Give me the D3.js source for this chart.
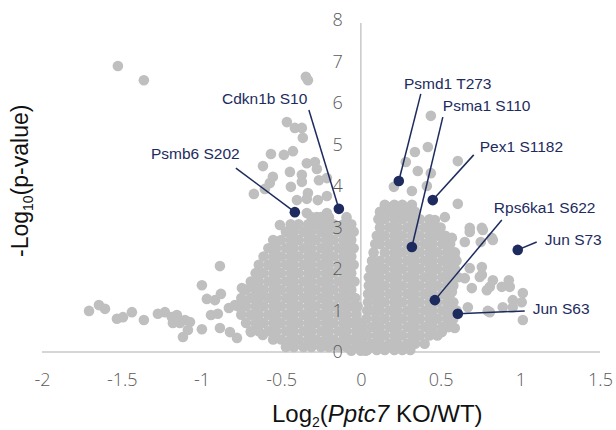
<!DOCTYPE html>
<html><head><meta charset="utf-8">
<script src="https://cdn.jsdelivr.net/npm/d3@7"></script>
<style>
html,body{margin:0;padding:0;background:#fff;}
svg{display:block;}
</style></head>
<body>
<svg id="chart" width="616" height="430"></svg>
<script>
// ---- Data (log2 fold change, -log10 p) ----
const xTicks = [-2, -1.5, -1, -0.5, 0, 0.5, 1, 1.5];
const xTickLabels = ["-2", "-1.5", "-1", "-0.5", "0", "0.5", "1", "1.5"];
const yTicks = [0, 1, 2, 3, 4, 5, 6, 7, 8];
const yTickLabels = ["0", "1", "2", "3", "4", "5", "6", "7", "8"];

const scatteredPoints = [
  [-1.524,6.89],[-1.361,6.55],
  [-1.705,0.99],[-1.643,1.13],[-1.605,1.04],[-1.530,0.80],[-1.492,0.84],[-1.436,0.96],[-1.361,0.77],
  [-1.273,0.92],[-1.229,0.96],[-1.185,0.84],[-1.154,0.89],[-1.179,0.70],[-1.135,0.70],[-1.103,0.77],
  [-1.116,0.36],[-1.085,0.53],[-1.072,0.72],
  [-0.884,2.07],[-0.997,1.61],[-0.966,1.28],[-0.915,1.25],[-0.878,1.40],[-0.746,1.54],[-0.683,1.57],
  [-0.633,1.33],[-0.828,1.06],[-0.790,1.13],[-0.727,1.20],[-0.940,0.89],[-0.897,0.92],[-0.997,0.55],
  [-0.884,0.58],[-0.821,0.48],[-0.777,0.34],[-0.690,0.48],[-0.615,0.41],
  [-0.464,5.54],[-0.414,5.40],[-0.370,5.40],[-0.364,5.16],[-0.564,4.77],[-0.483,4.75],[-0.426,4.84],
  [-0.614,4.48],[-0.339,4.55],[-0.288,4.58],[-0.276,4.41],[-0.445,4.34],[-0.370,4.27],[-0.552,4.22],
  [-0.370,4.10],[-0.263,4.14],[-0.213,4.19],[-0.571,4.07],[-0.439,3.98],[-0.332,3.83],[-0.602,3.93],
  [-0.671,3.81],[-0.401,3.66],[-0.339,3.69],[-0.270,3.66],[-0.213,3.76],[-0.339,3.35],[-0.276,3.25],
  [-0.213,3.35],[-0.508,3.06],[-0.345,6.63],[-0.332,6.55],
  [0.439,5.69],[0.339,4.82],[0.420,4.94],[0.282,4.58],[0.608,4.60],[0.357,4.36],[0.439,4.31],
  [0.207,3.98],[0.320,3.88],[0.414,4.00],[0.169,3.49],[0.119,3.25],[0.608,3.57],[0.527,3.25],
  [0.464,3.18],[0.683,2.99],[0.759,2.99],
  [0.571,2.75],[0.683,2.89],[0.652,2.65],[0.752,2.65],[0.821,2.75],[0.589,2.27],[0.683,2.02],
  [0.759,2.05],[0.746,1.81],[0.652,1.78],[0.696,1.54],[0.809,1.57],[0.571,1.45],[0.671,1.08],
  [0.796,0.99],[0.589,0.58],[0.508,0.48],
  [0.765,2.94],[0.828,2.70],[0.759,1.86],[0.828,1.73],[0.790,1.49],[0.928,1.73],[0.884,1.57],
  [0.934,1.57],[1.016,1.42],[1.009,1.20],[0.953,1.25],[0.953,1.08],[0.890,1.08],[0.809,0.96],[1.016,0.77]
];

// dense left cloud, read row by row (y of row, x of points in the row)
const leftRowY = [3.25, 3.08, 2.90, 2.70, 2.50, 2.30, 2.10, 1.90, 1.70, 1.50, 1.30, 1.10, 0.90, 0.70, 0.50, 0.30, 0.12, 0.03];
const leftRowX = [
  [-0.31,-0.25,-0.20,-0.09],
  [-0.44,-0.39,-0.33,-0.28,-0.22,-0.17,-0.11,-0.06],
  [-0.47,-0.42,-0.36,-0.31,-0.25,-0.20,-0.14,-0.09,-0.045],
  [-0.55,-0.50,-0.44,-0.39,-0.33,-0.28,-0.22,-0.17,-0.11,-0.06],
  [-0.58,-0.53,-0.47,-0.42,-0.36,-0.31,-0.25,-0.20,-0.14,-0.09,-0.045],
  [-0.61,-0.55,-0.50,-0.44,-0.39,-0.33,-0.28,-0.22,-0.17,-0.11,-0.06],
  [-0.64,-0.58,-0.53,-0.47,-0.42,-0.36,-0.31,-0.25,-0.20,-0.14,-0.09,-0.045],
  [-0.66,-0.61,-0.55,-0.50,-0.44,-0.39,-0.33,-0.28,-0.22,-0.17,-0.11,-0.06],
  [-0.69,-0.64,-0.58,-0.53,-0.47,-0.42,-0.36,-0.31,-0.25,-0.20,-0.14,-0.09,-0.04],
  [-0.72,-0.66,-0.61,-0.55,-0.50,-0.44,-0.39,-0.33,-0.28,-0.22,-0.17,-0.11,-0.06],
  [-0.75,-0.69,-0.64,-0.58,-0.53,-0.47,-0.42,-0.36,-0.31,-0.25,-0.20,-0.14,-0.09,-0.035],
  [-0.77,-0.72,-0.66,-0.61,-0.55,-0.50,-0.44,-0.39,-0.33,-0.28,-0.22,-0.17,-0.11,-0.06,-0.02],
  [-0.75,-0.69,-0.64,-0.58,-0.53,-0.47,-0.42,-0.36,-0.31,-0.25,-0.20,-0.14,-0.09,-0.03],
  [-0.72,-0.66,-0.61,-0.55,-0.50,-0.44,-0.39,-0.33,-0.28,-0.22,-0.17,-0.11,-0.06,-0.01],
  [-0.69,-0.64,-0.58,-0.53,-0.47,-0.42,-0.36,-0.31,-0.25,-0.20,-0.14,-0.09,-0.03],
  [-0.55,-0.50,-0.44,-0.39,-0.33,-0.28,-0.22,-0.17,-0.11,-0.06,-0.01],
  [-0.47,-0.42,-0.36,-0.31,-0.25,-0.20,-0.14,-0.09,-0.03],
  [-0.06,0.00,0.03]
];

// dense right cloud
const rightRowY = [3.55, 3.38, 3.20, 3.00, 2.80, 2.60, 2.40, 2.20, 2.00, 1.80, 1.60, 1.40, 1.20, 1.00, 0.80, 0.60, 0.40, 0.20, 0.05];
const rightRowX = [
  [0.15,0.21,0.26,0.32],
  [0.12,0.18,0.23,0.29,0.34],
  [0.11,0.15,0.21,0.26,0.32,0.37,0.43],
  [0.12,0.18,0.23,0.29,0.34,0.40,0.45,0.50],
  [0.10,0.15,0.21,0.26,0.32,0.37,0.43,0.48,0.53],
  [0.09,0.12,0.18,0.23,0.29,0.34,0.40,0.45,0.51,0.56],
  [0.08,0.15,0.21,0.26,0.32,0.37,0.43,0.48,0.54,0.59],
  [0.07,0.12,0.18,0.23,0.29,0.34,0.40,0.45,0.51,0.56,0.60],
  [0.06,0.10,0.15,0.21,0.26,0.32,0.37,0.43,0.48,0.54,0.59],
  [0.05,0.07,0.12,0.18,0.23,0.29,0.34,0.40,0.45,0.51,0.56,0.61],
  [0.05,0.10,0.15,0.21,0.26,0.32,0.37,0.43,0.48,0.54,0.58],
  [0.045,0.07,0.12,0.18,0.23,0.29,0.34,0.40,0.45,0.51,0.56],
  [0.045,0.10,0.15,0.21,0.26,0.32,0.37,0.43,0.48,0.54,0.58],
  [0.04,0.07,0.12,0.18,0.23,0.29,0.34,0.40,0.45,0.51,0.56,0.60],
  [0.035,0.095,0.15,0.21,0.26,0.32,0.37,0.43,0.48,0.54,0.58],
  [0.015,0.07,0.12,0.18,0.23,0.29,0.34,0.40,0.45,0.51,0.55],
  [0.00,0.04,0.10,0.15,0.21,0.26,0.32,0.37,0.43,0.48],
  [0.015,0.07,0.12,0.18,0.23,0.29,0.34,0.40],
  [0.04,0.10,0.15,0.21,0.26,0.31]
];

// Highlighted sites
const siteNames = ["Psmb6 S202","Cdkn1b S10","Psmd1 T273","Psma1 S110","Pex1 S1182","Rps6ka1 S622","Jun S73","Jun S63"];
const siteX = [-0.414, -0.138, 0.238, 0.320, 0.451, 0.464, 0.984, 0.608];
const siteY = [3.37, 3.45, 4.12, 2.53, 3.66, 1.25, 2.46, 0.92];
// label text anchor (data units) and leader-line start (data units)
const labelX = [-1.317, -0.871, 0.270, 0.514, 0.746, 0.834, 1.154, 1.078];
const labelY = [4.65, 5.98, 6.34, 5.81, 4.82, 3.35, 2.58, 0.92];
const leaderX = [-0.784, -0.326, 0.376, 0.514, 0.708, 0.884, 1.103, 1.028];
const leaderY = [4.43, 5.83, 6.22, 5.66, 4.75, 3.18, 2.65, 0.99];

// ---- Drawing ----
const svg = d3.select("#chart");
const x = d3.scaleLinear().domain([-2, 1.5]).range([42, 600]);
const y = d3.scaleLinear().domain([0, 8]).range([352, 20]);

const grey = "#bfbfbf";
const navy = "#1d2b5e";
const R = 5.3;

// axis lines (under points)
svg.append("line").attr("x1", x(-2)).attr("x2", x(1.5)).attr("y1", y(0)).attr("y2", y(0))
  .attr("stroke", "#c8c8c8").attr("stroke-width", 1.5);
svg.append("line").attr("x1", x(0)).attr("x2", x(0)).attr("y1", y(0)).attr("y2", y(7.93))
  .attr("stroke", "#c8c8c8").attr("stroke-width", 1.5);

const rowsToPoints = (ys, xs) => ys.flatMap((yy, i) => xs[i].map(xx => [xx, yy]));
const allGrey = scatteredPoints.concat(rowsToPoints(leftRowY, leftRowX), rowsToPoints(rightRowY, rightRowX));
svg.append("g").selectAll("circle").data(allGrey).join("circle")
  .attr("cx", d => x(d[0])).attr("cy", d => y(d[1])).attr("r", R).attr("fill", grey);

// leader lines, highlighted points, labels
const sites = siteNames.map((n, i) => ({n, x: siteX[i], y: siteY[i], lx: labelX[i], ly: labelY[i], sx: leaderX[i], sy: leaderY[i]}));
svg.append("g").selectAll("line").data(sites).join("line")
  .attr("x1", d => x(d.sx)).attr("y1", d => y(d.sy))
  .attr("x2", d => x(d.x)).attr("y2", d => y(d.y))
  .attr("stroke", navy).attr("stroke-width", 1.5);
svg.append("g").selectAll("circle").data(sites).join("circle")
  .attr("cx", d => x(d.x)).attr("cy", d => y(d.y)).attr("r", R).attr("fill", navy);
svg.append("g").selectAll("text").data(sites).join("text")
  .attr("x", d => x(d.lx)).attr("y", d => y(d.ly))
  .attr("font-family", "'Liberation Sans', Arial, sans-serif").attr("font-size", 15.5)
  .attr("fill", navy).text(d => d.n);

// tick labels via D3 axes
const tickFont = "'Open Sans', 'Liberation Sans', sans-serif";
const xAxis = d3.axisBottom(x).tickValues(xTicks).tickFormat((d, i) => xTickLabels[i]).tickSize(0).tickPadding(21);
const gx = svg.append("g").attr("transform", `translate(0,${y(0)})`).call(xAxis);
gx.select(".domain").remove();
gx.selectAll("text").attr("font-family", tickFont).attr("font-weight", 300).attr("font-size", 18).attr("fill", "#595959");

const yAxis = d3.axisLeft(y).tickValues(yTicks).tickFormat((d, i) => yTickLabels[i]).tickSize(0).tickPadding(18);
const gy = svg.append("g").attr("transform", `translate(${x(0)},0)`).call(yAxis);
gy.select(".domain").remove();
gy.selectAll("text").attr("font-family", tickFont).attr("font-weight", 300).attr("font-size", 18).attr("fill", "#595959");

// axis titles
const titleFont = "'Liberation Sans', Arial, sans-serif";
const xt = svg.append("text").attr("x", 272).attr("y", 422).attr("text-anchor", "start")
  .attr("font-family", titleFont).attr("font-size", 24).attr("fill", "#111");
xt.append("tspan").text("Log");
xt.append("tspan").attr("font-size", 14).attr("dy", 5).text("2");
xt.append("tspan").attr("dy", -5).text("(");
xt.append("tspan").attr("font-style", "italic").text("Pptc7");
xt.append("tspan").text(" KO/WT)");

const yt = svg.append("text").attr("transform", "translate(28,257) rotate(-90)").attr("text-anchor", "start")
  .attr("font-family", titleFont).attr("font-size", 23).attr("fill", "#111");
yt.append("tspan").text("-Log");
yt.append("tspan").attr("font-size", 14).attr("dy", 5).text("10");
yt.append("tspan").attr("dy", -5).text("(p-value)");
</script>
</body></html>
